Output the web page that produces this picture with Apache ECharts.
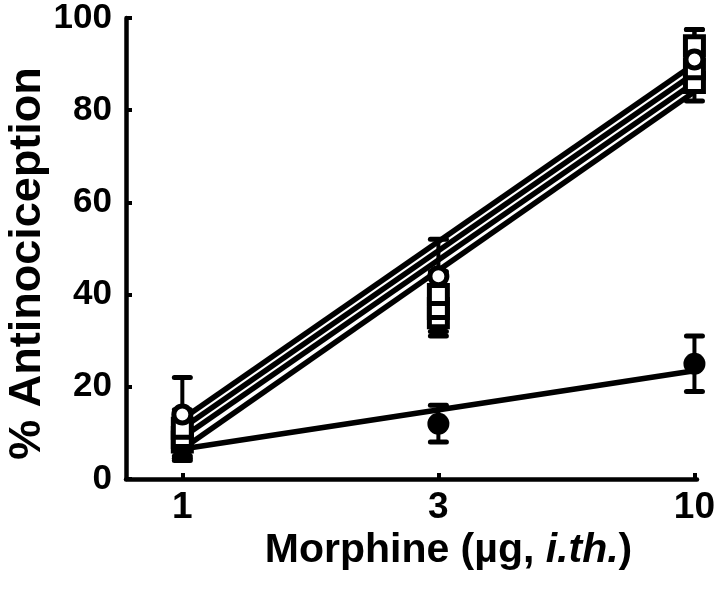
<!DOCTYPE html>
<html>
<head>
<meta charset="utf-8">
<script src="https://cdn.jsdelivr.net/npm/echarts@6/dist/echarts.min.js"></script>
<style>html,body{margin:0;padding:0;background:#fff}#c{width:720px;height:596px}</style>
</head>
<body>
<div id="c"></div>
<script>
// Dose categories (equally spaced on the x axis)
const doseLabels = ['1', '3', '10'];
const doseIndex = [0, 1, 2];
const yTicks = [0, 20, 40, 60, 80, 100];

// Group means (% antinociception) and SEM
const openCircleMean = [14, 44, 91];
const openCircleSem  = [8, 8, 6.5];
const squareAMean = [11, 40, 94];
const squareASem  = [4, 5, 3.5];
const squareBMean = [9, 37, 89];
const squareBSem  = [4, 5, 4];
const squareCMean = [8, 35, 86];
const squareCSem  = [3.5, 4, 4];
const filledCircleMean = [7, 12, 25];
const filledCircleSem  = [3, 4, 6];

// Regression line values at dose 1 and dose 10
const fitDoseIndex = [0, 2];
const fit1 = [13, 90];
const fit2 = [11, 88];
const fit3 = [9, 86];
const fit4 = [6.5, 84];
const fit5 = [6.5, 23.5];

const FONT = '"Liberation Sans", Arial, sans-serif';

function pts(xs, ys) { return xs.map((x, i) => [x, ys[i]]); }
function errPts(xs, m, s) { return xs.map((x, i) => [x, m[i] - s[i], m[i] + s[i]]); }

function errSeries(xs, m, s) {
  return {
    type: 'custom',
    z: 3,
    silent: true,
    data: errPts(xs, m, s),
    renderItem: function (params, api) {
      const x = api.value(0);
      const lo = api.coord([x, api.value(1)]);
      const hi = api.coord([x, api.value(2)]);
      const hw = 8;
      const st = { stroke: '#000', lineWidth: 4, lineCap: 'butt' };
      const cap = { stroke: '#000', lineWidth: 5, lineCap: 'round' };
      return {
        type: 'group',
        children: [
          { type: 'line', shape: { x1: lo[0], y1: lo[1], x2: hi[0], y2: hi[1] }, style: st },
          { type: 'line', shape: { x1: hi[0] - hw, y1: hi[1], x2: hi[0] + hw, y2: hi[1] }, style: cap },
          { type: 'line', shape: { x1: lo[0] - hw, y1: lo[1], x2: lo[0] + hw, y2: lo[1] }, style: cap }
        ]
      };
    }
  };
}

function fitLine(ys) {
  return {
    type: 'line', z: 2, silent: true, symbol: 'none',
    data: pts(fitDoseIndex, ys),
    lineStyle: { color: '#000', width: 5.5, opacity: 1 }
  };
}

function markers(m, symbol, size, filled) {
  return {
    type: 'scatter', z: 5, silent: true,
    symbol: symbol, symbolSize: size,
    data: pts(doseIndex, m),
    itemStyle: filled
      ? { color: '#000', opacity: 1 }
      : { color: '#fff', borderColor: '#000', borderWidth: 5, opacity: 1 }
  };
}

const chart = echarts.init(document.getElementById('c'), null, { renderer: 'canvas' });
chart.setOption({
  animation: false,
  backgroundColor: '#fff',
  grid: { left: 126, right: 23, top: 18, bottom: 117, containLabel: false, outerBoundsMode: 'none' },
  xAxis: {
    type: 'value', min: -0.22, max: 2.01,
    name: 'Morphine (\u00b5g, {it|i.th.})',
    nameLocation: 'middle', nameGap: 51, nameMoveOverlap: false,
    nameTextStyle: {
      fontFamily: FONT, fontWeight: 'bold', fontSize: 41, color: '#000', padding: [0, 0, 0, 74],
      rich: { it: { fontFamily: FONT, fontWeight: 'bold', fontStyle: 'italic', fontSize: 41, color: '#000' } }
    },
    splitLine: { show: false },
    axisLine: { show: true, onZero: false, lineStyle: { color: '#000', width: 4.5 } },
    axisTick: { show: true, inside: true, length: 6, customValues: doseIndex, lineStyle: { color: '#000', width: 4 } },
    axisLabel: {
      customValues: doseIndex, margin: 10,
      formatter: function (v) { return doseLabels[Math.round(v)]; },
      fontFamily: FONT, fontWeight: 'bold', fontSize: 37, color: '#000'
    }
  },
  yAxis: {
    type: 'value', min: 0, max: 100, interval: 20,
    name: '% Antinociception',
    nameLocation: 'middle', nameGap: 76, nameMoveOverlap: false,
    nameTextStyle: { fontFamily: FONT, fontWeight: 'bold', fontSize: 45, color: '#000', padding: [0, 30, 0, 0] },
    splitLine: { show: false },
    axisLine: { show: true, onZero: false, lineStyle: { color: '#000', width: 4.5 } },
    axisTick: { show: true, inside: true, length: 6, lineStyle: { color: '#000', width: 4 } },
    axisLabel: {
      margin: 14,
      formatter: function (v) { return yTicks.indexOf(v) >= 0 ? String(v) : ''; },
      fontFamily: FONT, fontWeight: 'bold', fontSize: 35, color: '#000'
    }
  },
  series: [
    fitLine(fit5), fitLine(fit4), fitLine(fit3), fitLine(fit2), fitLine(fit1),
    errSeries(doseIndex, filledCircleMean, filledCircleSem),
    errSeries(doseIndex, squareCMean, squareCSem),
    errSeries(doseIndex, squareBMean, squareBSem),
    errSeries(doseIndex, squareAMean, squareASem),
    errSeries(doseIndex, openCircleMean, openCircleSem),
    markers(filledCircleMean, 'circle', 22, true),
    markers(squareCMean, 'rect', 18, false),
    markers(squareBMean, 'rect', 18, false),
    markers(squareAMean, 'rect', 18, false),
    markers(openCircleMean, 'circle', 17, false)
  ]
});
</script>
</body>
</html>
